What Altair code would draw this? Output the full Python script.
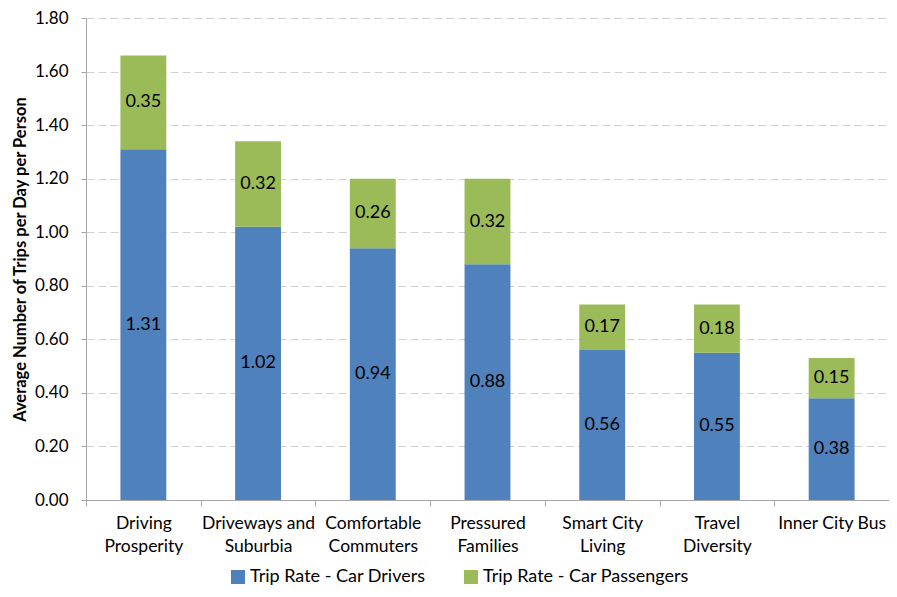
import altair as alt
import pandas as pd

categories = ["Driving\nProsperity", "Driveways and\nSuburbia", "Comfortable\nCommuters",
              "Pressured\nFamilies", "Smart City\nLiving", "Travel\nDiversity", "Inner City Bus"]
drivers = [1.31, 1.02, 0.94, 0.88, 0.56, 0.55, 0.38]
passengers = [0.35, 0.32, 0.26, 0.32, 0.17, 0.18, 0.15]
series = ["Trip Rate - Car Drivers", "Trip Rate - Car Passengers"]
colors = ["#4F81BD", "#9BBB59"]

rows = []
for c, d, p in zip(categories, drivers, passengers):
    rows.append({"cat": c, "series": series[0], "value": d, "ord": 0})
    rows.append({"cat": c, "series": series[1], "value": p, "ord": 1})
df = pd.DataFrame(rows)

FONT = "Lato"

x = alt.X("cat:N", sort=categories, title=None,
          scale=alt.Scale(paddingInner=0, paddingOuter=0),
          axis=alt.Axis(labelAngle=0, labelExpr="split(datum.label, '\\n')",
                        tickBand="extent", tickSize=6, labelPadding=8,
                        labelFontSize=17.5, labelLineHeight=23, labelColor="#000000",
                        labelLimit=200,
                        domainColor="#A6A6A6", tickColor="#A6A6A6", labelBaseline="top"))

y_scale = alt.Scale(domain=[0, 1.8], nice=False)

bars = alt.Chart(df).mark_bar(width=alt.RelativeBandSize(0.4)).encode(
    x=x,
    y=alt.Y("value:Q", stack="zero", scale=y_scale,
            title="Average Number of Trips per Day per Person",
            axis=alt.Axis(values=[0, 0.2, 0.4, 0.6, 0.8, 1.0, 1.2, 1.4, 1.6, 1.8],
                          format=".2f", grid=True, gridDash=[8, 4], gridColor="#D0D0D0",
                          domainColor="#A6A6A6", tickColor="#A6A6A6", tickSize=5,
                          labelPadding=13, labelFontSize=17, labelColor="#000000",
                          titleFontSize=16.5, titleFontWeight="bold", titleColor="#000000",
                          titlePadding=6)),
    color=alt.Color("series:N", sort=series,
                    scale=alt.Scale(domain=series, range=colors),
                    legend=alt.Legend(orient="none", legendX=143, legendY=550,
                                      direction="horizontal", title=None,
                                      symbolType="square", symbolSize=196,
                                      symbolStrokeWidth=0, labelFontSize=18,
                                      labelLimit=300, labelOffset=3,
                                      labelColor="#000000", columnPadding=36)),
    order=alt.Order("ord:Q", sort="ascending"),
)

labels = alt.Chart(df).transform_stack(
    stack="value", groupby=["cat"], as_=["v0", "v1"],
    sort=[alt.SortField("ord", order="ascending")]
).transform_calculate(
    mid="(datum.v0 + datum.v1) / 2",
    txt="format(datum.value, '.2f')"
).mark_text(fontSize=18, color="#000000", font=FONT).encode(
    x=alt.X("cat:N", sort=categories),
    y=alt.Y("mid:Q", scale=y_scale),
    text="txt:N",
)

chart = alt.layer(bars, labels).properties(
    width=803, height=482,
    autosize=alt.AutoSizeParams(type="none"),
    padding={"left": 78, "top": 10, "right": 0, "bottom": 89},
).configure(font=FONT).configure_view(stroke=None)

chart.save("out.html", embed_options={"renderer": "svg", "actions": False})
